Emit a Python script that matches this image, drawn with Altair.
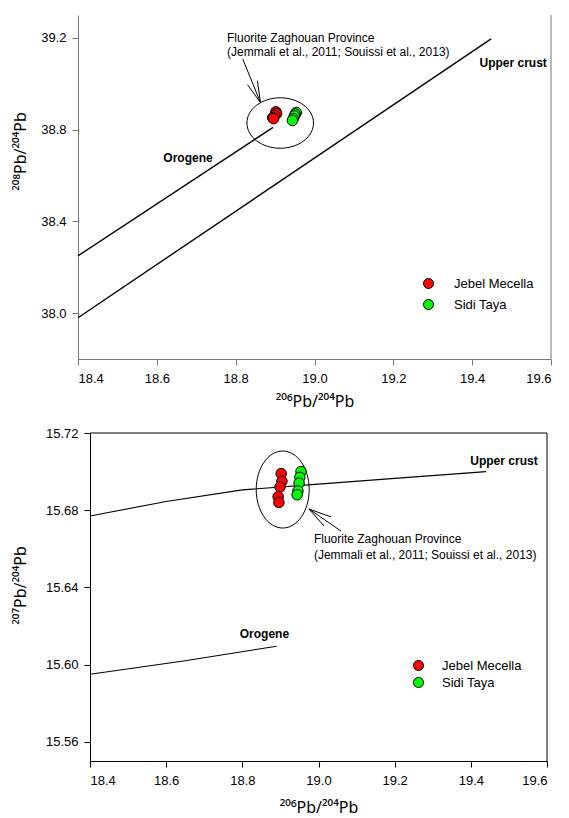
import altair as alt
import pandas as pd

FONT = "Liberation Sans"
TITLE_FONT = "Noto Sans"

# ---------------- data ----------------
series = ["Jebel Mecella", "Sidi Taya"]
series_colors = ["#FF0000", "#00FF00"]

jm_206 = [18.902, 18.904, 18.899, 18.894, 18.896]
jm_207 = [15.699, 15.695, 15.692, 15.687, 15.684]
jm_208 = [38.878, 38.870, 38.862, 38.852, 38.848]
st_206 = [18.954, 18.951, 18.949, 18.946, 18.944]
st_207 = [15.700, 15.697, 15.694, 15.690, 15.688]
st_208 = [38.875, 38.868, 38.860, 38.848, 38.840]

curve_names = ["Orogene", "Upper crust"]
# 206Pb/204Pb vs 208Pb/204Pb
orogene_208_x = [18.40, 18.895]
orogene_208_y = [38.25, 38.81]
crust_208_x = [18.40, 19.448]
crust_208_y = [37.98, 39.196]
# 206Pb/204Pb vs 207Pb/204Pb
orogene_207_x = [18.40, 18.65, 18.89]
orogene_207_y = [15.595, 15.602, 15.6095]
crust_207_x = [18.40, 18.60, 18.80, 19.00, 19.20, 19.44]
crust_207_y = [15.677, 15.6845, 15.6905, 15.6935, 15.6965, 15.700]

label_208_x = [18.679, 19.504]
label_208_y = [38.677, 39.092]
label_207_x = [18.858, 19.487]
label_207_y = [15.6158, 15.7055]

note_lines = ["Fluorite Zaghouan Province",
              "(Jemmali et al., 2011; Souissi et al., 2013)"]
note_208_x = [18.778, 18.778]
note_208_y = [39.201, 39.140]
note_207_x = [18.988, 18.988]
note_207_y = [15.665, 15.6568]

# arrows: tip point, and the far ends of shaft + two head strokes
arrow_208_tip = [18.863, 38.918]
arrow_208_tail_x = [18.818, 18.855, 18.830]
arrow_208_tail_y = [39.108, 39.0135, 38.996]
arrow_207_tip = [18.975, 15.6806]
arrow_207_tail_x = [19.059, 19.033, 19.0145]
arrow_207_tail_y = [15.6692, 15.6765, 15.6718]

ellipse_208_center = [18.913, 38.829]
ellipse_207_center = [18.906, 15.6907]

x_ticks = [18.4, 18.6, 18.8, 19.0, 19.2, 19.4, 19.6]
y208_ticks = [38.0, 38.4, 38.8, 39.2]
y207_ticks = [15.56, 15.60, 15.64, 15.68, 15.72]

# ellipse outlines as custom symbol paths (unit box -1..1)
ELL_208 = ("M 1 0 C 1 0.4184 0.5523 0.7576 0 0.7576 C -0.5523 0.7576 -1 0.4184 -1 0 "
           "C -1 -0.4184 -0.5523 -0.7576 0 -0.7576 C 0.5523 -0.7576 1 -0.4184 1 0 Z")
ELL_207 = ("M 0.688 0 C 0.688 0.5523 0.380 1 0 1 C -0.380 1 -0.688 0.5523 -0.688 0 "
           "C -0.688 -0.5523 -0.380 -1 0 -1 C 0.380 -1 0.688 -0.5523 0.688 0 Z")


def make_panel(jm_y, st_y, oro_x, oro_y, cr_x, cr_y, lab_x, lab_y, note_x, note_y,
               tip, tail_x, tail_y, ell_c, ell_path, ell_size,
               ydom, yticks, yfmt, ytitle, w, h, x0, axis_color,
               ytitle_pad, ytitle_y, xtitle_pad, leg_x, leg_y, leg_off, leg_row,
               line_w, top_border):
    pts = pd.DataFrame({
        "x": jm_206 + st_206,
        "y": jm_y + st_y,
        "Series": [series[0]] * len(jm_206) + [series[1]] * len(st_206),
    })
    curves = pd.DataFrame({
        "x": oro_x + cr_x,
        "y": oro_y + cr_y,
        "curve": [curve_names[0]] * len(oro_x) + [curve_names[1]] * len(cr_x),
    })
    labels = pd.DataFrame({"x": lab_x, "y": lab_y, "text": curve_names})
    notes = pd.DataFrame({"x": note_x, "y": note_y, "text": note_lines})
    arrows = pd.DataFrame({"x": [tip[0]] * 3, "y": [tip[1]] * 3,
                           "x2": tail_x, "y2": tail_y})
    ell = pd.DataFrame({"x": [ell_c[0]], "y": [ell_c[1]]})

    xaxis = alt.Axis(values=x_ticks, format=".1f", title="²⁰⁶Pb/²⁰⁴Pb",
                     grid=False, tickSize=6, labelPadding=7, titlePadding=xtitle_pad,
                     domainColor=axis_color, tickColor=axis_color)
    yaxis = alt.Axis(values=yticks, format=yfmt, title=ytitle, grid=False,
                     tickSize=6, labelPadding=6, titlePadding=ytitle_pad,
                     titleY=ytitle_y, offset=-x0,
                     domainColor=axis_color, tickColor=axis_color)
    xs = alt.Scale(domain=[18.4, 19.6], nice=False, zero=False, range=[x0, w])
    ys = alt.Scale(domain=ydom, nice=False, zero=False)
    X = alt.X("x:Q", scale=xs, axis=xaxis)
    Y = alt.Y("y:Q", scale=ys, axis=yaxis)

    lines = alt.Chart(curves).mark_line(color="black", strokeWidth=line_w).encode(
        x=X, y=Y, detail="curve:N")
    lab = alt.Chart(labels).mark_text(font=FONT, fontSize=12, fontWeight="bold",
                                      align="center", baseline="middle",
                                      color="black").encode(x=X, y=Y, text="text:N")
    note = alt.Chart(notes).mark_text(font=FONT, fontSize=12, align="left",
                                      baseline="middle", color="black").encode(
        x=X, y=Y, text="text:N")
    arr = alt.Chart(arrows).mark_rule(color="black", strokeWidth=1).encode(
        x=X, y=Y, x2="x2:Q", y2="y2:Q")
    ellipse = alt.Chart(ell).mark_point(shape=ell_path, size=ell_size, filled=False,
                                        color="black", strokeWidth=1,
                                        opacity=1).encode(x=X, y=Y)
    points = alt.Chart(pts).mark_circle(size=110, stroke="black", strokeWidth=1,
                                        opacity=1).encode(
        x=X, y=Y,
        color=alt.Color("Series:N",
                        scale=alt.Scale(domain=series, range=series_colors),
                        legend=alt.Legend(title=None, orient="none",
                                          legendX=leg_x, legendY=leg_y,
                                          symbolType="circle", symbolSize=100,
                                          symbolStrokeColor="black",
                                          symbolStrokeWidth=1, symbolOpacity=1,
                                          labelFont=FONT, labelFontSize=13,
                                          labelColor="black",
                                          labelOffset=leg_off, rowPadding=leg_row,
                                          padding=0)))
    right = alt.Chart(ell).mark_rule(color=axis_color, strokeWidth=1).encode(
        x=alt.value(w), y=alt.value(0), y2=alt.value(h))
    layers = [lines, right]
    if top_border:
        layers.append(alt.Chart(ell).mark_rule(color=axis_color, strokeWidth=1).encode(
            x=alt.value(x0), x2=alt.value(w), y=alt.value(0)))
    layers += [arr, ellipse, points, lab, note]
    return alt.layer(*layers).properties(
        width=w, height=h, view=alt.ViewBackground(stroke="transparent"))


top = make_panel(jm_208, st_208, orogene_208_x, orogene_208_y, crust_208_x,
                 crust_208_y, label_208_x, label_208_y, note_208_x, note_208_y,
                 arrow_208_tip, arrow_208_tail_x, arrow_208_tail_y,
                 ellipse_208_center, ELL_208, 4435,
                 [37.8, 39.3], y208_ticks, ".1f", "²⁰⁸Pb/²⁰⁴Pb", 473, 344, 0,
                 "#777777", 12, 136, 8, 344, 262, 19, 6, 1.4, False)

bottom = make_panel(jm_207, st_207, orogene_207_x, orogene_207_y, crust_207_x,
                    crust_207_y, label_207_x, label_207_y, note_207_x, note_207_y,
                    arrow_207_tip, arrow_207_tail_x, arrow_207_tail_y,
                    ellipse_207_center, ELL_207, 5929,
                    [15.55, 15.72], y207_ticks, ".2f", "²⁰⁷Pb/²⁰⁴Pb", 469, 328, 12,
                    "black", 17, 152, 12, 334, 226, 17, 2, 1.1, True)

chart = alt.vconcat(top, bottom, spacing=16)
chart = chart.resolve_scale(color="independent").properties(
    padding={"left": 11, "top": 14, "right": 5, "bottom": 0},
    background="white",
).configure(font=FONT).configure_axis(
    labelFont=FONT, titleFont=TITLE_FONT, labelFontSize=13, titleFontSize=16,
    labelColor="black", titleColor="black", titleFontWeight="normal", grid=False,
)

chart.save("out.html", embed_options={"renderer": "svg", "actions": False})
